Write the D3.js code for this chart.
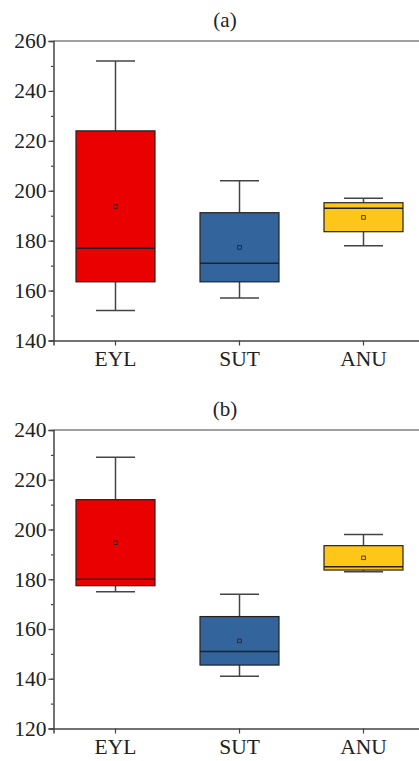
<html>
  <head>
    <style>
      body { margin: 0; background: #fff; }
      text { font-family: "Liberation Serif", "Times New Roman", serif; fill: #222; }
    </style>
    <script src="https://cdn.jsdelivr.net/npm/d3@7"></script>
  </head>
  <body>
    <svg id="container" height="761" width="419"></svg>
  </body>
  <script>
    // shared categories and colours
    const categories = ["EYL", "SUT", "ANU"];
    const colors = ["#ea0000", "#33649c", "#ffc61a"];

    // panel (a)
    const aMin = [152, 157, 178];
    const aQ1 = [163.5, 163.5, 183.6];
    const aMedian = [177, 171, 193];
    const aQ3 = [224, 191.2, 195.2];
    const aMax = [252, 204, 197];
    const aMean = [193.7, 177.3, 189.3];

    // panel (b)
    const bMin = [175, 141, 183];
    const bQ1 = [177.4, 145.5, 183.7];
    const bMedian = [180, 151, 185];
    const bQ3 = [212, 165, 193.5];
    const bMax = [229, 174, 198];
    const bMean = [194.7, 155.2, 188.6];

    const svg = d3.select("#container");

    const x = d3.scaleBand().domain(categories).range([53.5, 425.5]);

    function makeBoxes(rows) {
      return categories.map((c, i) => ({
        cat: c, color: colors[i],
        min: rows[0][i], q1: rows[1][i], med: rows[2][i],
        q3: rows[3][i], max: rows[4][i], mean: rows[5][i]
      }));
    }

    function drawPanel(label, domain, yRange, titleY, boxes) {
      const g = svg.append("g");
      const y = d3.scaleLinear().domain(domain).range(yRange);
      const left = x.range()[0], right = x.range()[1];

      g.append("text")
        .attr("x", 225).attr("y", titleY)
        .attr("text-anchor", "middle")
        .attr("font-size", 21)
        .text(label);

      // frame
      g.append("line").attr("x1", left).attr("x2", right)
        .attr("y1", y(domain[1])).attr("y2", y(domain[1]))
        .attr("stroke", "#444").attr("stroke-width", 1.2);

      // minor ticks
      g.append("g")
        .attr("transform", `translate(${left},0)`)
        .call(d3.axisLeft(y).tickValues(d3.range(domain[0], domain[1] + 1, 10)).tickSize(2.5).tickFormat(""))
        .call(s => s.select(".domain").remove())
        .selectAll("line").attr("stroke", "#444").attr("stroke-width", 1.2);

      // major ticks and labels
      const yAxis = g.append("g")
        .attr("transform", `translate(${left},0)`)
        .call(d3.axisLeft(y).tickValues(d3.range(domain[0], domain[1] + 1, 20)).tickSize(5).tickPadding(2));
      yAxis.select(".domain").attr("stroke", "#444").attr("stroke-width", 1.5);
      yAxis.selectAll(".tick line").attr("stroke", "#444").attr("stroke-width", 1.2);
      yAxis.selectAll("text").attr("font-size", 21.5).attr("font-family", "Liberation Serif").attr("fill", "#222");

      const xAxis = g.append("g")
        .attr("transform", `translate(0,${y(domain[0])})`)
        .call(d3.axisBottom(x).tickSize(5).tickPadding(5));
      xAxis.select(".domain").attr("stroke", "#444").attr("stroke-width", 1.5);
      xAxis.selectAll(".tick line").attr("stroke", "#444").attr("stroke-width", 1.2);
      xAxis.selectAll("text").attr("font-size", 21.5).attr("font-family", "Liberation Serif").attr("fill", "#222");

      const boxW = 79, capW = 39;
      const bx = g.selectAll(".bx").data(boxes).enter().append("g")
        .attr("transform", d => `translate(${x(d.cat) + x.bandwidth() / 2},0)`);

      // whiskers
      bx.append("line").attr("x1", 0).attr("x2", 0)
        .attr("y1", d => y(d.max)).attr("y2", d => y(d.q3))
        .attr("stroke", "#444").attr("stroke-width", 1.5);
      bx.append("line").attr("x1", 0).attr("x2", 0)
        .attr("y1", d => y(d.q1)).attr("y2", d => y(d.min))
        .attr("stroke", "#444").attr("stroke-width", 1.5);
      bx.append("line").attr("x1", -capW / 2).attr("x2", capW / 2)
        .attr("y1", d => y(d.max)).attr("y2", d => y(d.max))
        .attr("stroke", "#444").attr("stroke-width", 1.5);
      bx.append("line").attr("x1", -capW / 2).attr("x2", capW / 2)
        .attr("y1", d => y(d.min)).attr("y2", d => y(d.min))
        .attr("stroke", "#444").attr("stroke-width", 1.5);

      // box
      bx.append("rect")
        .attr("x", -boxW / 2).attr("width", boxW)
        .attr("y", d => y(d.q3)).attr("height", d => y(d.q1) - y(d.q3))
        .attr("fill", d => d.color)
        .attr("stroke", "#222").attr("stroke-width", 1.2);

      // median
      bx.append("line").attr("x1", -boxW / 2).attr("x2", boxW / 2)
        .attr("y1", d => y(d.med)).attr("y2", d => y(d.med))
        .attr("stroke", "#222").attr("stroke-width", 1.5);

      // mean marker
      bx.append("rect")
        .attr("x", -1.8).attr("width", 3.6).attr("height", 3.6)
        .attr("y", d => y(d.mean) - 1.8)
        .attr("fill", "none").attr("stroke", "#222").attr("stroke-width", 0.8);
    }

    drawPanel("(a)", [140, 260], [340.5, 41], 27,
      makeBoxes([aMin, aQ1, aMedian, aQ3, aMax, aMean]));
    drawPanel("(b)", [120, 240], [728.5, 430], 416,
      makeBoxes([bMin, bQ1, bMedian, bQ3, bMax, bMean]));
  </script>
</html>
